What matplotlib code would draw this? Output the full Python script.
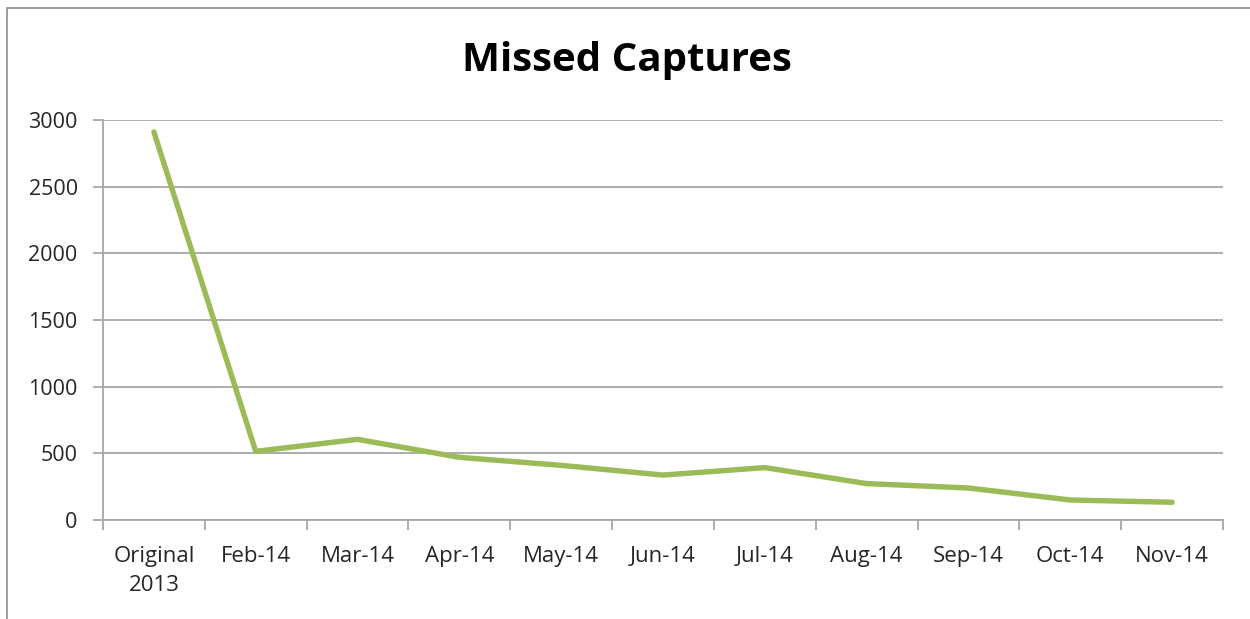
import matplotlib
matplotlib.use("Agg")
import matplotlib.pyplot as plt
from matplotlib.patches import Rectangle
from matplotlib.ticker import FixedLocator, NullFormatter, FixedFormatter

categories = ["Original\n2013", "Feb-14", "Mar-14", "Apr-14", "May-14", "Jun-14",
              "Jul-14", "Aug-14", "Sep-14", "Oct-14", "Nov-14"]
missed = [2910, 515, 605, 470, 410, 337, 393, 273, 240, 150, 133]
yticks = [0, 500, 1000, 1500, 2000, 2500, 3000]

W, H = 1250, 619
fig = plt.figure(figsize=(W / 100, H / 100), dpi=100)
fig.patch.set_facecolor("white")

# outer chart border (extends beyond right/bottom edges)
fig.patches.append(Rectangle((7 / W, -0.1), 1.2, 1 - 8 / H + 0.1, transform=fig.transFigure,
                             fill=False, edgecolor="#8c8c8c", linewidth=1.2))

ax = fig.add_axes([103 / W, 1 - 520 / H, (1223 - 103) / W, (520 - 120) / H])
x = list(range(len(categories)))
ax.plot(x, missed, color="#9BBB59", linewidth=3.9, solid_capstyle="round", solid_joinstyle="round")

ax.set_xlim(-0.5, len(categories) - 0.5)
ax.set_ylim(0, 3000)

grid_c = "#a6a6a6"
for s in ["top", "right"]:
    ax.spines[s].set_visible(False)
for s in ["left", "bottom"]:
    ax.spines[s].set_color(grid_c)
    ax.spines[s].set_linewidth(1.3)

ax.set_yticks(yticks)
ax.set_yticklabels([str(v) for v in yticks])
ax.yaxis.grid(True, color=grid_c, linewidth=1.3)
ax.set_axisbelow(True)

ax.xaxis.set_major_locator(FixedLocator([i - 0.5 for i in range(len(categories) + 1)]))
ax.xaxis.set_major_formatter(NullFormatter())
ax.xaxis.set_minor_locator(FixedLocator(x))
ax.xaxis.set_minor_formatter(FixedFormatter(categories))

font = "Open Sans"
ax.tick_params(axis="y", which="major", length=7.2, width=1.3, color=grid_c, direction="out",
               pad=11, labelsize=15.5, labelcolor="#262626")
ax.tick_params(axis="x", which="major", length=7.2, width=1.3, color=grid_c, direction="out")
ax.tick_params(axis="x", which="minor", length=0, pad=19, labelsize=16, labelcolor="#262626")
for lab in ax.get_yticklabels() + ax.xaxis.get_minorticklabels():
    lab.set_fontfamily(font)
for lab in ax.xaxis.get_minorticklabels():
    lab.set_linespacing(1.45)
    lab.set_verticalalignment("top")

fig.text(627 / W, 1 - 61 / H, "Missed Captures", ha="center", va="center",
         fontsize=29, fontweight="bold", family=font, color="black")

fig.savefig("out.png", dpi=100, facecolor="white")
